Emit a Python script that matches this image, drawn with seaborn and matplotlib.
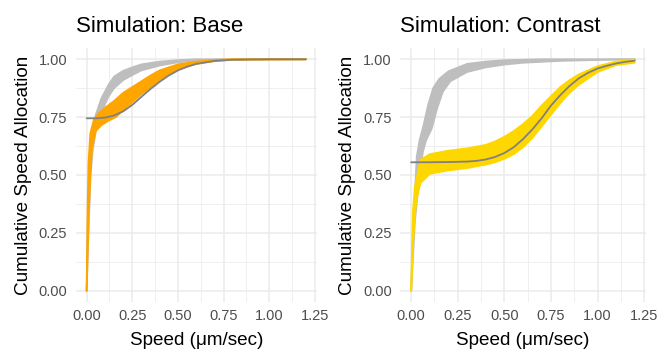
import numpy as np
import pandas as pd
import matplotlib
matplotlib.use("Agg")
import matplotlib.pyplot as plt
import seaborn as sns

# ---- data ----
# Base panel: grey (reference) bundle, left and right edges
base_grey_hi_x = [0, 0.005, 0.01, 0.02, 0.03, 0.05, 0.08, 0.12, 0.15, 0.2, 0.25, 0.3, 0.4, 0.5, 0.6, 0.8, 1.2]
base_grey_hi_y = [0, 0.25, 0.42, 0.6, 0.68, 0.76, 0.83, 0.89, 0.925, 0.95, 0.965, 0.978, 0.99, 0.996, 1.0, 1.0, 1.0]
base_grey_lo_x = [0, 0.012, 0.022, 0.032, 0.05, 0.08, 0.12, 0.15, 0.2, 0.25, 0.3, 0.4, 0.5, 0.6, 0.8, 1.2]
base_grey_lo_y = [0, 0.3, 0.5, 0.6, 0.69, 0.77, 0.84, 0.875, 0.91, 0.932, 0.952, 0.973, 0.987, 0.995, 1.0, 1.0]

# Base panel: orange (simulated) bundle
base_sim_hi_x = [0, 0.005, 0.01, 0.02, 0.04, 0.07, 0.1, 0.15, 0.2, 0.25, 0.3, 0.35, 0.4, 0.5, 0.6, 0.7, 0.8, 1.2]
base_sim_hi_y = [0, 0.35, 0.55, 0.68, 0.74, 0.77, 0.79, 0.82, 0.855, 0.88, 0.905, 0.93, 0.952, 0.978, 0.99, 0.997, 1.0, 1.0]
base_sim_lo_x = [0, 0.01, 0.02, 0.03, 0.05, 0.08, 0.12, 0.16, 0.2, 0.25, 0.3, 0.35, 0.4, 0.45, 0.5, 0.6, 0.7, 0.8, 1.2]
base_sim_lo_y = [0, 0.3, 0.5, 0.62, 0.69, 0.715, 0.735, 0.75, 0.78, 0.815, 0.85, 0.88, 0.91, 0.935, 0.955, 0.98, 0.992, 0.998, 1.0]

# Base panel: fitted curve
base_fit_x = [0, 0.05, 0.1, 0.15, 0.2, 0.25, 0.3, 0.35, 0.4, 0.45, 0.5, 0.55, 0.6, 0.7, 0.8, 1.0, 1.2]
base_fit_y = [0.745, 0.745, 0.748, 0.757, 0.775, 0.803, 0.838, 0.872, 0.903, 0.93, 0.952, 0.968, 0.98, 0.993, 0.998, 1.0, 1.0]

# Contrast panel: grey bundle
con_grey_hi_x = [0, 0.01, 0.02, 0.03, 0.045, 0.065, 0.09, 0.118, 0.15, 0.2, 0.3, 0.4, 0.5, 0.7, 1.2]
con_grey_hi_y = [0, 0.25, 0.42, 0.58, 0.65, 0.71, 0.8, 0.875, 0.915, 0.948, 0.98, 0.99, 0.996, 1.0, 1.0]
con_grey_lo_x = [0, 0.02, 0.045, 0.063, 0.08, 0.11, 0.14, 0.17, 0.21, 0.3, 0.4, 0.5, 0.6, 0.8, 1.0, 1.2]
con_grey_lo_y = [0, 0.3, 0.5, 0.6, 0.65, 0.70, 0.79, 0.86, 0.905, 0.945, 0.965, 0.977, 0.985, 0.993, 0.997, 1.0]

# Contrast panel: yellow (simulated) bundle
con_sim_hi_x = [0, 0.005, 0.01, 0.02, 0.05, 0.1, 0.2, 0.3, 0.4, 0.45, 0.5, 0.55, 0.6, 0.65, 0.7, 0.75, 0.8, 0.85, 0.9, 1.0, 1.1, 1.2]
con_sim_hi_y = [0, 0.2, 0.35, 0.45, 0.565, 0.59, 0.605, 0.615, 0.63, 0.645, 0.665, 0.69, 0.72, 0.755, 0.8, 0.84, 0.88, 0.91, 0.935, 0.97, 0.99, 1.0]
con_sim_lo_x = [0, 0.01, 0.02, 0.03, 0.05, 0.1, 0.2, 0.3, 0.4, 0.45, 0.5, 0.55, 0.6, 0.65, 0.7, 0.75, 0.8, 0.85, 0.9, 1.0, 1.1, 1.2]
con_sim_lo_y = [0, 0.2, 0.33, 0.4, 0.465, 0.505, 0.52, 0.53, 0.545, 0.555, 0.57, 0.59, 0.62, 0.66, 0.71, 0.76, 0.81, 0.855, 0.89, 0.945, 0.975, 0.985]

# Contrast panel: fitted curve
con_fit_x = [0, 0.1, 0.2, 0.3, 0.35, 0.4, 0.45, 0.5, 0.55, 0.6, 0.65, 0.7, 0.75, 0.8, 0.85, 0.9, 0.95, 1.0, 1.05, 1.1, 1.15, 1.2]
con_fit_y = [0.555, 0.555, 0.556, 0.558, 0.561, 0.567, 0.578, 0.595, 0.62, 0.655, 0.697, 0.745, 0.80, 0.845, 0.885, 0.918, 0.942, 0.96, 0.972, 0.982, 0.989, 0.994]

x_ticks = [0, 0.25, 0.5, 0.75, 1.0, 1.25]
y_ticks = [0, 0.25, 0.5, 0.75, 1.0]

panels = [
    ("Simulation: Base", "#FFA500",
     (base_grey_hi_x, base_grey_hi_y, base_grey_lo_x, base_grey_lo_y),
     (base_sim_hi_x, base_sim_hi_y, base_sim_lo_x, base_sim_lo_y),
     (base_fit_x, base_fit_y)),
    ("Simulation: Contrast", "#FFD700",
     (con_grey_hi_x, con_grey_hi_y, con_grey_lo_x, con_grey_lo_y),
     (con_sim_hi_x, con_sim_hi_y, con_sim_lo_x, con_sim_lo_y),
     (con_fit_x, con_fit_y)),
]

sns.set_theme(style="white")
plt.rcParams["font.family"] = ["Liberation Sans", "DejaVu Sans"]

fig = plt.figure(figsize=(6.68, 3.57), dpi=100)
W, H = 668, 357
boxes = [(75.7, 316.8), (400.0, 646.0)]
top_px, bot_px = 47.7, 302.3


def draw_bundle(ax, hi_x, hi_y, lo_x, lo_y, color):
    poly_x = np.concatenate([hi_x, lo_x[::-1]])
    poly_y = np.concatenate([hi_y, lo_y[::-1]])
    ax.fill(poly_x, poly_y, color=color, lw=0, zorder=2)
    sns.lineplot(x=hi_x, y=hi_y, ax=ax, color=color, lw=1.3, sort=False, estimator=None, zorder=2)
    sns.lineplot(x=lo_x, y=lo_y, ax=ax, color=color, lw=1.3, sort=False, estimator=None, zorder=2)


for (title, sim_col, grey, sim, fit), (l, r) in zip(panels, boxes):
    ax = fig.add_axes([l / W, 1 - bot_px / H, (r - l) / W, (bot_px - top_px) / H])
    draw_bundle(ax, *grey, "#BEBEBE")
    draw_bundle(ax, *sim, sim_col)
    sns.lineplot(x=fit[0], y=fit[1], ax=ax, color="#808080", lw=1.3, sort=False, estimator=None, zorder=3)

    ax.set_xlim(-0.06, 1.26)
    ax.set_ylim(-0.05, 1.05)
    ax.set_xticks(x_ticks)
    ax.set_yticks(y_ticks)
    ax.set_xticks([0.125, 0.375, 0.625, 0.875, 1.125], minor=True)
    ax.set_yticks([0.125, 0.375, 0.625, 0.875], minor=True)
    ax.set_xticklabels([f"{v:.2f}" for v in x_ticks])
    ax.set_yticklabels([f"{v:.2f}" for v in y_ticks])
    ax.grid(which="major", color="#EBEBEB", lw=1.1, zorder=0)
    ax.grid(which="minor", color="#EBEBEB", lw=0.55, zorder=0)
    ax.set_axisbelow(True)
    for s in ax.spines.values():
        s.set_visible(False)
    ax.tick_params(which="both", length=0, labelsize=10.5, labelcolor="#4D4D4D")
    ax.tick_params(axis="y", pad=6)
    ax.tick_params(axis="x", pad=5)
    ax.set_xlabel("Speed (μm/sec)", fontsize=13.6, color="black", labelpad=6)
    ax.set_ylabel("Cumulative Speed Allocation", fontsize=13.6, color="black", labelpad=5)
    ax.set_title(title, loc="left", fontsize=16, pad=11, color="black")

fig.savefig("out.png", dpi=100, facecolor="white")
